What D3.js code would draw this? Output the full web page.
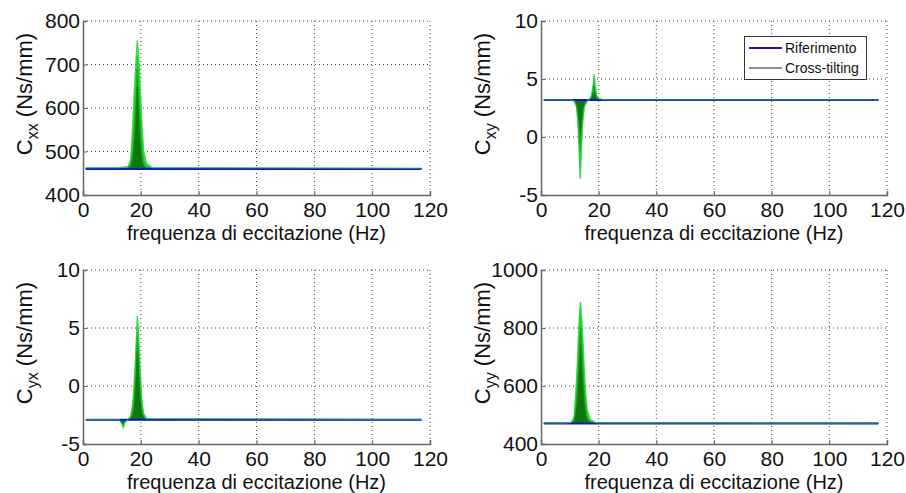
<!DOCTYPE html>
<html>
<head>
<meta charset="utf-8">
<script src="https://cdn.jsdelivr.net/npm/d3@7"></script>
<style>
  body { margin: 0; background: #fff; }
  text { font-family: "Liberation Sans", Arial, sans-serif; }
</style>
</head>
<body>
<div id="chart"></div>
<script>
// x ticks shared by all panels
const xTicks = [0, 20, 40, 60, 80, 100, 120];

// ---- Cxx ----
const freqXX = [1, 12, 15.5, 16.5, 17.2, 17.6, 18.1, 18.5, 18.8, 19.1, 19.5, 20, 20.4, 21, 22, 24, 117];
const refXX = 460;
const xxC1 = [463, 463, 465, 480, 560, 620, 680, 730, 755, 730, 690, 620, 560, 500, 472, 463, 461];
const xxC2 = [462, 462, 463, 476, 530, 580, 640, 690, 720, 690, 640, 580, 525, 480, 467, 462, 461];
const xxC3 = [461, 461, 462, 468, 495, 530, 585, 640, 690, 640, 585, 530, 492, 468, 463, 461, 461];
const xxC4 = [461, 461, 461, 464, 478, 500, 540, 590, 650, 590, 535, 495, 475, 464, 462, 461, 461];

// ---- Cxy ----
const freqXY = [1, 10.5, 11.5, 12.3, 12.8, 13.2, 13.6, 14.0, 14.4, 15, 16, 17, 17.6, 18.1, 18.4, 18.8, 19.3, 20, 22, 117];
const refXY = 3.2;
const xyC1 = [3.2, 3.2, 3.1, 2.6, 1.2, -1.0, -3.6, -1.2, 1.0, 2.6, 3.1, 3.3, 3.7, 4.6, 5.4, 4.5, 3.6, 3.3, 3.2, 3.2];
const xyC2 = [3.2, 3.2, 3.1, 2.7, 1.6, -0.3, -2.6, -0.5, 1.4, 2.7, 3.1, 3.3, 3.6, 4.3, 4.9, 4.2, 3.5, 3.3, 3.2, 3.2];
const xyC3 = [3.2, 3.2, 3.15, 2.8, 2.0, 0.6, -1.2, 0.4, 1.9, 2.8, 3.15, 3.2, 3.5, 4.0, 4.4, 3.9, 3.4, 3.2, 3.2, 3.2];
const xyC4 = [3.2, 3.2, 3.2, 2.9, 2.4, 1.5, 0.3, 1.4, 2.3, 2.9, 3.2, 3.2, 3.4, 3.7, 3.9, 3.6, 3.3, 3.2, 3.2, 3.2];

// ---- Cyx ----
const freqYX = [1, 12.5, 13.5, 13.9, 14.4, 15.5, 16.5, 17.2, 17.7, 18.2, 18.6, 18.8, 19.1, 19.5, 20, 20.4, 21, 22, 117];
const refYX = -2.9;
const yxC1 = [-2.9, -2.9, -3.3, -3.6, -3.2, -2.9, -2.6, -1.5, 0.2, 2.6, 5.0, 6.0, 5.0, 2.8, 0.2, -1.4, -2.4, -2.8, -2.9];
const yxC2 = [-2.9, -2.9, -3.25, -3.5, -3.1, -2.9, -2.7, -1.8, -0.3, 1.9, 4.2, 5.2, 4.3, 2.1, -0.3, -1.7, -2.5, -2.85, -2.9];
const yxC3 = [-2.9, -2.9, -3.2, -3.4, -3.05, -2.9, -2.75, -2.3, -1.3, 0.6, 3.0, 4.3, 3.0, 0.6, -1.3, -2.2, -2.7, -2.9, -2.9];
const yxC4 = [-2.9, -2.9, -3.1, -3.3, -3.0, -2.9, -2.8, -2.6, -2.0, -0.6, 1.6, 3.0, 1.6, -0.6, -2.0, -2.5, -2.8, -2.9, -2.9];

// ---- Cyy ----
const freqYY = [1, 9, 10.6, 11.5, 12.2, 12.7, 13.1, 13.4, 13.7, 14.0, 14.4, 14.8, 15.3, 16, 17, 19, 117];
const refYY = 471;
const yyC1 = [473, 472, 476, 495, 600, 700, 800, 860, 890, 850, 790, 700, 600, 520, 485, 473, 472];
const yyC2 = [472, 471, 474, 489, 570, 660, 760, 820, 850, 810, 750, 660, 570, 505, 480, 472, 471];
const yyC3 = [471, 471, 472, 480, 530, 595, 680, 750, 800, 745, 680, 595, 530, 490, 475, 471, 471];
const yyC4 = [471, 471, 471, 475, 505, 550, 615, 680, 740, 675, 610, 550, 505, 480, 473, 471, 471];

const greens = ["#33ee33", "#22cc22", "#17a317", "#0e780e"];

const panels = [
    {box: [83, 430, 21, 195], domain: [400, 800], yTicks: [400, 500, 600, 700, 800], sub: "xx",
     freq: freqXX, ref: refXX, curves: [xxC1, xxC2, xxC3, xxC4]},
    {box: [541, 887, 21, 195], domain: [-5, 10], yTicks: [-5, 0, 5, 10], sub: "xy",
     freq: freqXY, ref: refXY, curves: [xyC1, xyC2, xyC3, xyC4], legend: true},
    {box: [83, 430, 270, 444], domain: [-5, 10], yTicks: [-5, 0, 5, 10], sub: "yx",
     freq: freqYX, ref: refYX, curves: [yxC1, yxC2, yxC3, yxC4]},
    {box: [541, 887, 270, 444], domain: [400, 1000], yTicks: [400, 600, 800, 1000], sub: "yy",
     freq: freqYY, ref: refYY, curves: [yyC1, yyC2, yyC3, yyC4]}
];

const svg = d3.select("#chart")
    .append("svg")
    .attr("width", 906)
    .attr("height", 493);

svg.append("rect")
    .attr("width", 906)
    .attr("height", 493)
    .attr("fill", "#fff");

panels.forEach(function (p) {
    const [left, right, top, bottom] = p.box;
    const x = d3.scaleLinear().domain([0, 120]).range([left, right]);
    const y = d3.scaleLinear().domain(p.domain).range([bottom, top]);
    const g = svg.append("g");

    // dotted grid
    g.selectAll(".vg").data(xTicks.slice(1)).enter().append("line")
        .attr("x1", d => x(d)).attr("x2", d => x(d))
        .attr("y1", top).attr("y2", bottom)
        .attr("stroke", "#444").attr("stroke-width", 1)
        .attr("stroke-dasharray", "1,3");
    g.selectAll(".hg").data(p.yTicks.slice(1)).enter().append("line")
        .attr("x1", left).attr("x2", right)
        .attr("y1", d => y(d)).attr("y2", d => y(d))
        .attr("stroke", "#444").attr("stroke-width", 1)
        .attr("stroke-dasharray", "1,3");

    // green spread (cross-tilting curves), widest first
    const base = y(p.ref);
    p.curves.forEach(function (c, i) {
        const pts = p.freq.map((f, k) => [f, c[k]]);
        g.append("path")
            .datum(pts)
            .attr("d", d3.area().x(d => x(d[0])).y0(base).y1(d => y(d[1])))
            .attr("fill", greens[i])
            .attr("stroke", greens[i])
            .attr("stroke-width", 0.8);
    });

    // reference line
    g.append("path")
        .datum(p.freq.map(f => [f, p.ref]))
        .attr("d", d3.line().x(d => x(d[0])).y(d => y(d[1])))
        .attr("stroke", "#1414c8").attr("stroke-width", 2).attr("fill", "none");

    // outer green curve over the reference
    g.append("path")
        .datum(p.freq.map((f, k) => [f, p.curves[0][k]]))
        .attr("d", d3.line().x(d => x(d[0])).y(d => y(d[1])))
        .attr("stroke", "#33cc55").attr("stroke-width", 1.3)
        .attr("stroke-opacity", 0.6).attr("fill", "none");

    // axes
    const xAxis = g.append("g")
        .attr("transform", "translate(0," + bottom + ")")
        .call(d3.axisBottom(x).tickValues(xTicks).tickSize(-4).tickPadding(8).tickFormat(d => String(d)));
    const yAxis = g.append("g")
        .attr("transform", "translate(" + left + ",0)")
        .call(d3.axisLeft(y).tickValues(p.yTicks).tickSize(-4).tickPadding(3).tickFormat(d => String(d)));
    [xAxis, yAxis].forEach(a => {
        a.select(".domain").attr("stroke", "#666").attr("stroke-width", 1.5);
        a.selectAll(".tick line").attr("stroke", "#666");
        a.selectAll(".tick text").attr("font-size", 21).attr("fill", "#111")
            .attr("font-family", "'Liberation Sans', Arial, sans-serif");
    });
    xAxis.selectAll(".tick text").attr("dy", "0.65em");

    // x label
    g.append("text")
        .attr("x", (left + right) / 2).attr("y", bottom + 45)
        .attr("text-anchor", "middle").attr("font-size", 20).attr("fill", "#111")
        .text("frequenza di eccitazione (Hz)");

    // y label
    const yl = g.append("text")
        .attr("transform", "translate(" + (left - 51) + "," + ((top + bottom) / 2 - 14) + ") rotate(-90)")
        .attr("text-anchor", "middle").attr("font-size", 22).attr("fill", "#111");
    yl.append("tspan").text("C");
    yl.append("tspan").attr("font-size", 16).attr("dy", 6).text(p.sub);
    yl.append("tspan").attr("dy", -6).text(" (Ns/mm)");

    if (p.legend) {
        const lg = g.append("g");
        lg.append("rect")
            .attr("x", 744.5).attr("y", 36.5).attr("width", 122).attr("height", 43)
            .attr("fill", "#fff").attr("stroke", "#333").attr("stroke-width", 1);
        const items = [["Riferimento", "#1414c8", 2], ["Cross-tilting", "#222", 1]];
        items.forEach(function (it, i) {
            const ly = 48 + i * 20;
            lg.append("line").attr("x1", 749).attr("x2", 782)
                .attr("y1", ly).attr("y2", ly)
                .attr("stroke", it[1]).attr("stroke-width", it[2]);
            lg.append("text").attr("x", 785).attr("y", ly + 5)
                .attr("font-size", 14).attr("fill", "#111").text(it[0]);
        });
    }
});
</script>
</body>
</html>
